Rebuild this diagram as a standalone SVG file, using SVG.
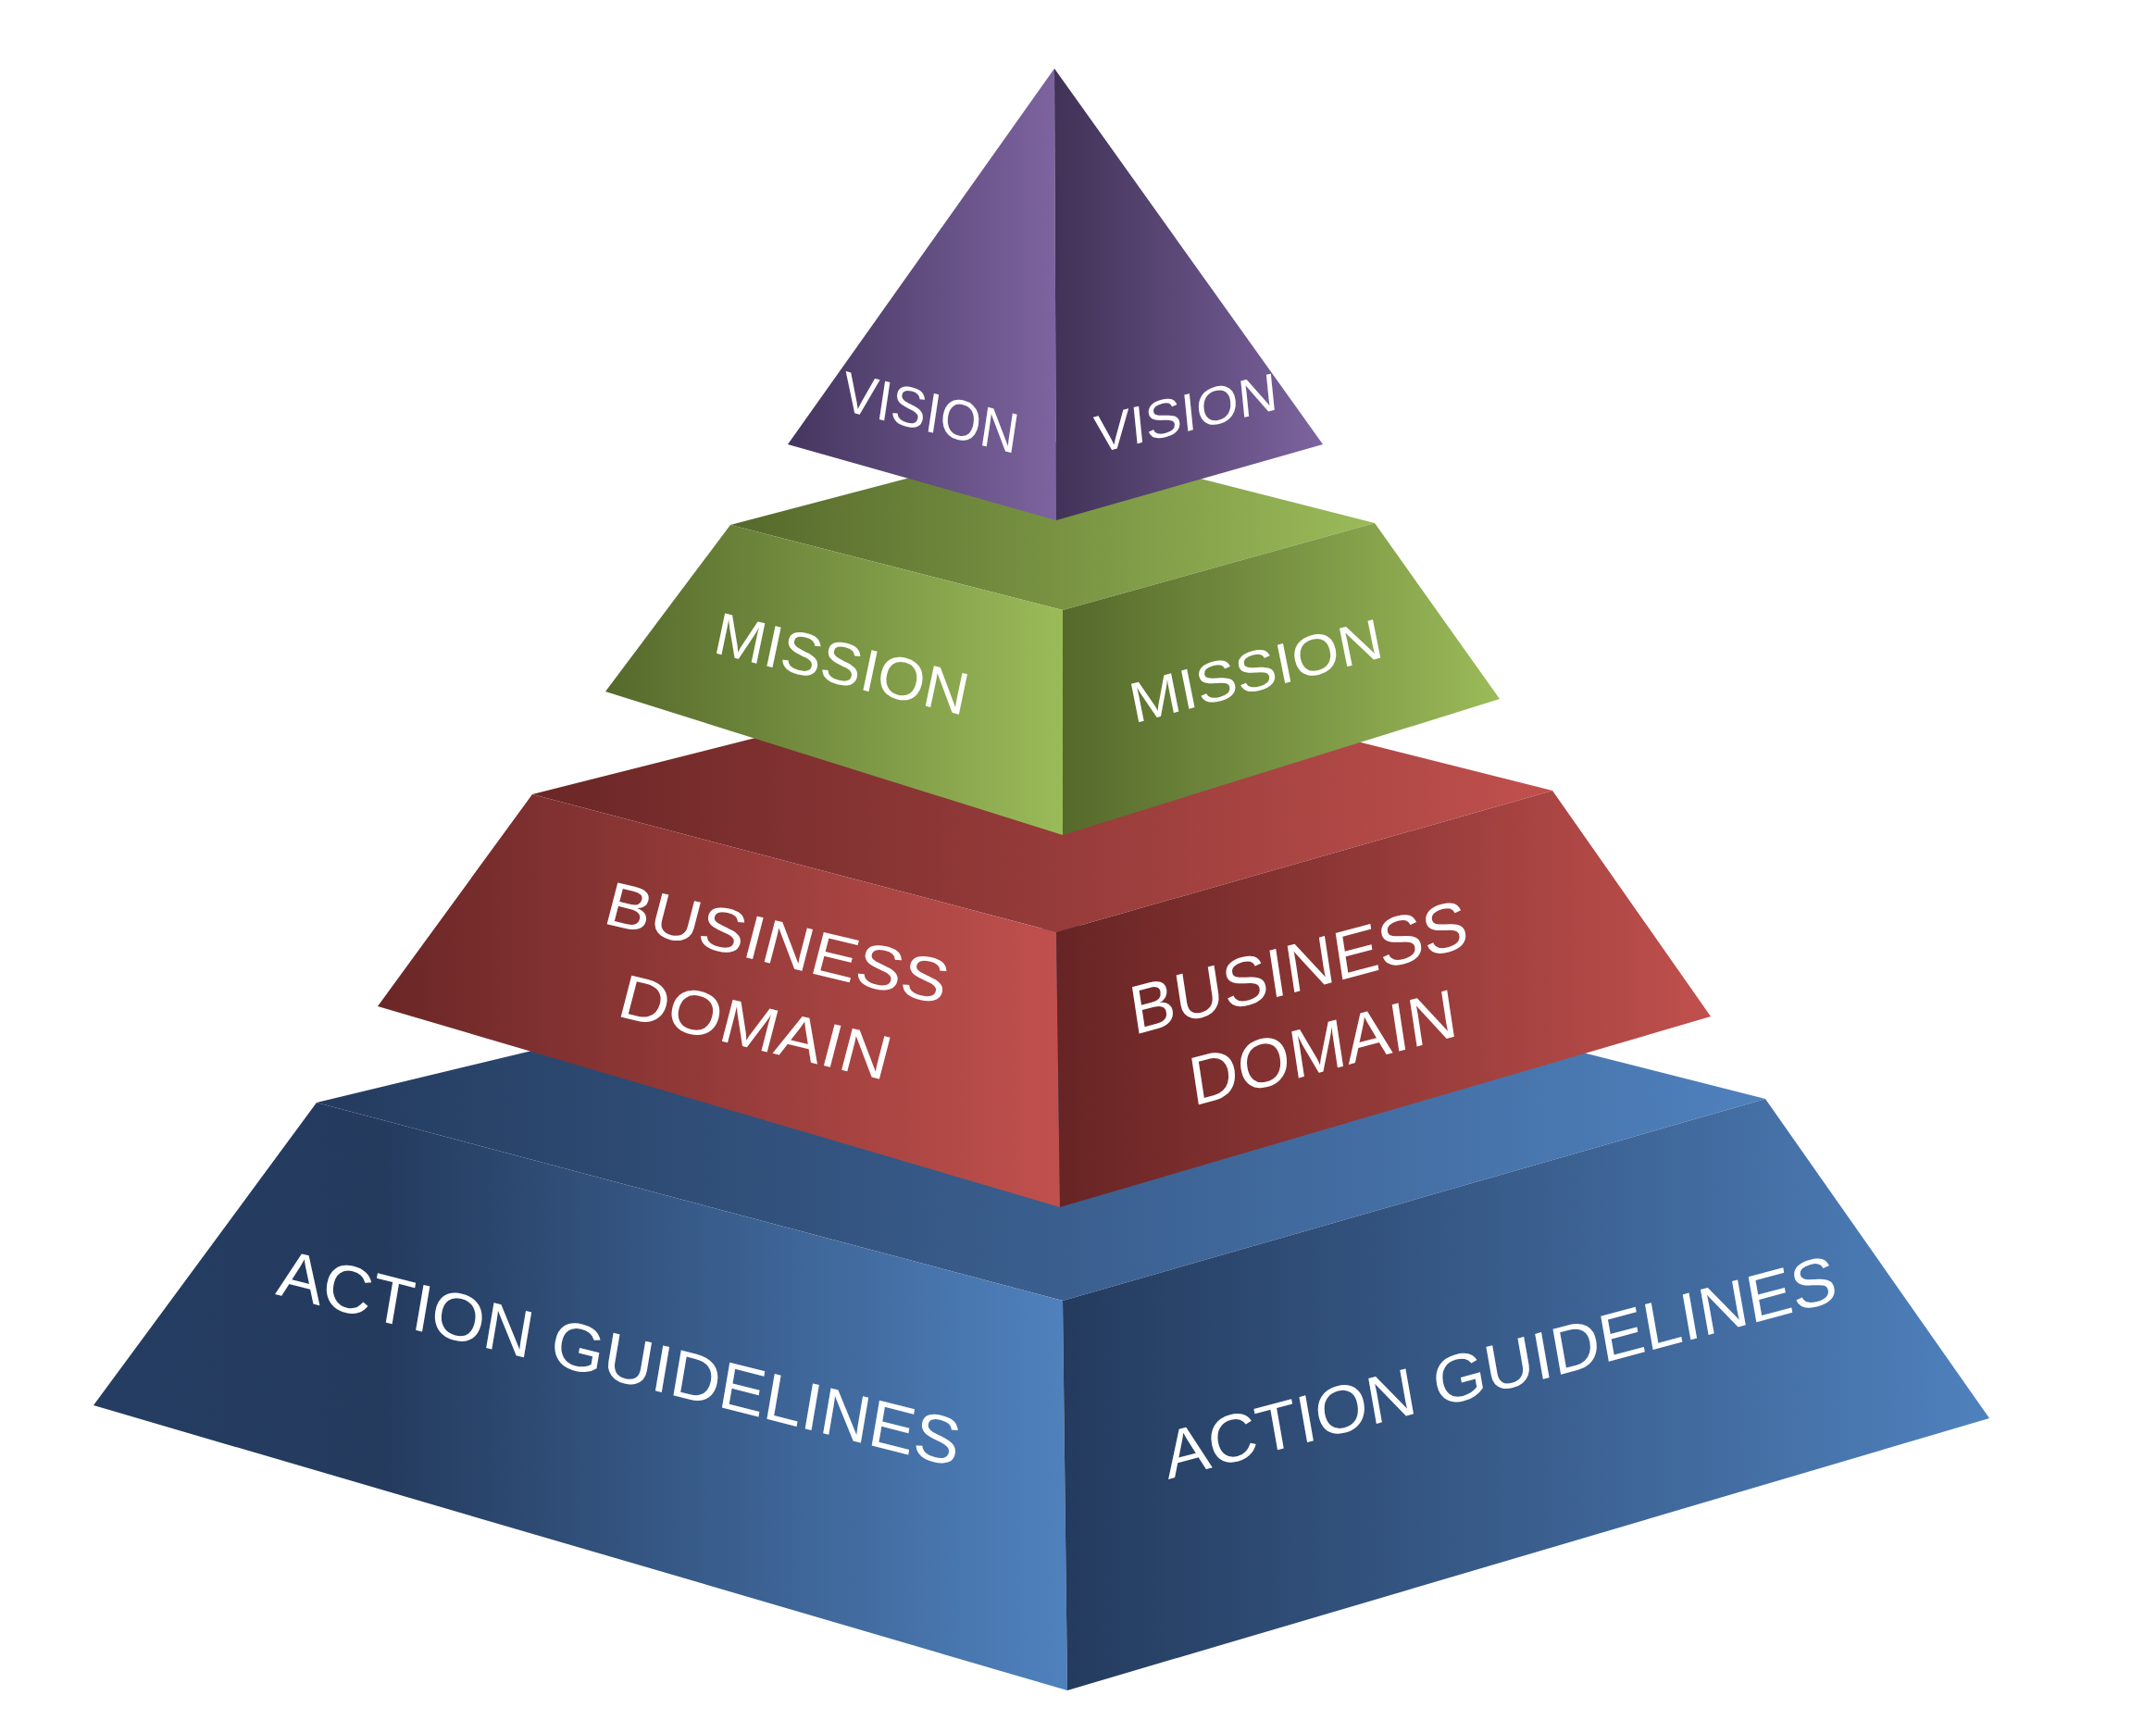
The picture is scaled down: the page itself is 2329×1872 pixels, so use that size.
<svg xmlns="http://www.w3.org/2000/svg" width="2329" height="1872" viewBox="0 0 2329 1872">
<style>
.lbl{font-family:"Liberation Sans",Arial,sans-serif;fill:#ffffff;}
</style>
<defs>
<linearGradient id="pL" gradientUnits="userSpaceOnUse" x1="851" y1="0" x2="1141" y2="0"><stop offset="0" stop-color="#44355e"/><stop offset="1" stop-color="#7d64a0"/></linearGradient>
<linearGradient id="pR" gradientUnits="userSpaceOnUse" x1="1141" y1="0" x2="1429" y2="0"><stop offset="0" stop-color="#413257"/><stop offset="1" stop-color="#7d64a0"/></linearGradient>
<linearGradient id="gT" gradientUnits="userSpaceOnUse" x1="789" y1="0" x2="1485" y2="0"><stop offset="0" stop-color="#55692b"/><stop offset="1" stop-color="#9bbb59"/></linearGradient>
<linearGradient id="gL" gradientUnits="userSpaceOnUse" x1="654" y1="0" x2="1148" y2="0"><stop offset="0" stop-color="#55692b"/><stop offset="1" stop-color="#9bbb59"/></linearGradient>
<linearGradient id="gR" gradientUnits="userSpaceOnUse" x1="1148" y1="0" x2="1620" y2="0"><stop offset="0" stop-color="#55692b"/><stop offset="1" stop-color="#9bbb59"/></linearGradient>
<linearGradient id="rT" gradientUnits="userSpaceOnUse" x1="575" y1="0" x2="1677" y2="0"><stop offset="0" stop-color="#6a2626"/><stop offset="1" stop-color="#c0504d"/></linearGradient>
<linearGradient id="rL" gradientUnits="userSpaceOnUse" x1="408" y1="0" x2="1141" y2="0"><stop offset="0" stop-color="#6a2626"/><stop offset="1" stop-color="#c0504d"/></linearGradient>
<linearGradient id="rR" gradientUnits="userSpaceOnUse" x1="1141" y1="0" x2="1848" y2="0"><stop offset="0" stop-color="#672424"/><stop offset="1" stop-color="#c0504d"/></linearGradient>
<linearGradient id="bT" gradientUnits="userSpaceOnUse" x1="342" y1="0" x2="1907" y2="0"><stop offset="0" stop-color="#243b5e"/><stop offset="1" stop-color="#4f81bd"/></linearGradient>
<linearGradient id="bL" gradientUnits="userSpaceOnUse" x1="101" y1="0" x2="1148" y2="0"><stop offset="0" stop-color="#253d62"/><stop offset="0.3" stop-color="#243b5e"/><stop offset="1" stop-color="#4f81bd"/></linearGradient>
<linearGradient id="bR" gradientUnits="userSpaceOnUse" x1="1148" y1="0" x2="2149" y2="0"><stop offset="0" stop-color="#243b5e"/><stop offset="1" stop-color="#4f81bd"/></linearGradient>
</defs>
<rect width="2329" height="1872" fill="#ffffff"/>

<g id="tier-action-guidelines">
<polygon points="342,1191 1152,996 1907,1187 1148,1405" fill="url(#bT)"/>
<polygon points="342,1191 1148,1405 1153,1826 101,1518" fill="url(#bL)"/>
<polygon points="1148,1405 1907,1187 2149,1532 1153,1826" fill="url(#bR)"/>
<text class="lbl" font-size="71" transform="matrix(1.025,0.26,-0.17,1,297,1398)">ACTION GUIDELINES</text>
<text class="lbl" font-size="71" transform="matrix(1.01,-0.27,0.176,1,1262,1598)">ACTION GUIDELINES</text>
</g>

<g id="tier-business-domain">
<polygon points="575,858 1132,717 1677,854 1141,1007" fill="url(#rT)"/>
<polygon points="575,858 1141,1007 1145,1304 408,1087" fill="url(#rL)"/>
<polygon points="1141,1007 1677,854 1848,1098 1145,1304" fill="url(#rR)"/>
<text class="lbl" font-size="65" transform="matrix(1.12,0.269,-0.26,1,649.8,996.7)"><tspan x="0" y="0">BUSINESS</tspan><tspan x="34.5" y="91">DOMAIN</tspan></text>
<text class="lbl" font-size="73" transform="matrix(0.985,-0.262,0.152,1,1224.8,1118.1)"><tspan x="0" y="0">BUSINESS</tspan><tspan x="51.4" y="90">DOMAIN</tspan></text>
</g>

<g id="tier-mission">
<polygon points="789,567 1135,476 1485,565 1148,659" fill="url(#gT)"/>
<polygon points="789,567 1148,659 1148,902 654,747" fill="url(#gL)"/>
<polygon points="1148,659 1485,565 1620,755 1148,902" fill="url(#gR)"/>
<text class="lbl" font-size="63" transform="matrix(1.024,0.2575,-0.21,1,768.7,704.4)">MISSION</text>
<text class="lbl" font-size="60" transform="matrix(1.072,-0.286,0.2,1,1225,781.5)">MISSION</text>
</g>

<g id="tier-vision">
<polygon points="1139,74 1141,562 851,480" fill="url(#pL)"/>
<polygon points="1139,74 1429,480 1141,562" fill="url(#pR)"/>
<text class="lbl" font-size="60" transform="matrix(0.933,0.235,-0.15,1,907.3,442.3)">VISION</text>
<text class="lbl" font-size="57" transform="matrix(1.02,-0.251,0.1,1,1184.4,490.1)">VISION</text>
</g>
</svg>
